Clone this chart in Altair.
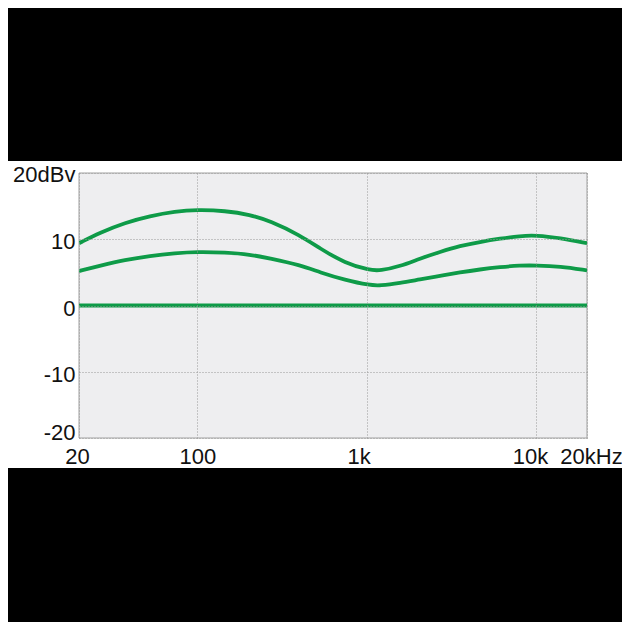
import altair as alt
import pandas as pd

# Frequencies (Hz)
freq = [20, 26.6, 37.4, 52.5, 73.8, 100, 146, 204.6, 269, 404, 530, 745, 1046,
        1199, 1573, 2065, 2711, 3557, 4668, 6127, 8042, 10000, 13860, 20000]
upper = [9.4, 11.0, 12.5, 13.5, 14.2, 14.45, 14.3, 13.7, 12.75, 10.6, 8.6, 6.4,
         5.3, 5.25, 5.9, 7.1, 8.1, 9.0, 9.6, 10.1, 10.5, 10.6, 10.2, 9.4]
lower = [5.2, 6.0, 6.9, 7.5, 7.9, 8.1, 8.0, 7.7, 7.1, 6.1, 5.0, 3.85, 3.05,
         3.0, 3.4, 3.95, 4.45, 5.0, 5.45, 5.8, 6.05, 6.05, 5.9, 5.3]
zero_freq = [20, 20000]
zero = [0, 0]

x_ticks = [20, 100, 1000, 10000, 20000]
x_labels = ["20", "100", "1k", "10k", "20kHz"]
y_ticks = [-20, -10, 0, 10, 20]
y_labels = ["-20", "-10", "0", "10", "20dBv"]

rows = []
for f, v in zip(freq, upper):
    rows.append({"f": f, "db": v, "s": "upper"})
for f, v in zip(freq, lower):
    rows.append({"f": f, "db": v, "s": "lower"})
for f, v in zip(zero_freq, zero):
    rows.append({"f": f, "db": v, "s": "zero"})
df = pd.DataFrame(rows)

xlab_expr = "".join(
    f"datum.value == {t} ? '{l}' : " for t, l in zip(x_ticks, x_labels)) + "datum.label"
ylab_expr = "".join(
    f"datum.value == {t} ? '{l}' : " for t, l in zip(y_ticks, y_labels)) + "datum.label"

FONT = "Liberation Sans"
GREEN = "#0e9b48"
W, H = 508, 265
PL, PT = 71, 165

one = pd.DataFrame({"k": [0]})

white = alt.Chart(one).mark_rect(color="white", clip=False).encode(
    x=alt.value(-PL), x2=alt.value(545), y=alt.value(-12), y2=alt.value(295))

grey = alt.Chart(one).mark_rect(fill="#eeeef0", stroke="#a0a0a0", strokeWidth=1).encode(
    x=alt.value(0), x2=alt.value(W), y=alt.value(0), y2=alt.value(H))

lines = alt.Chart(df).mark_line(color=GREEN, strokeWidth=3.8, interpolate="basis",
                                clip=True).encode(
    x=alt.X("f:Q", scale=alt.Scale(type="log", domain=[20, 20000], nice=False),
            axis=alt.Axis(values=x_ticks, labelExpr=xlab_expr, title=None, ticks=False,
                          domain=False, grid=True, gridColor="#999999", gridDash=[1, 2],
                          gridWidth=1, labelFont=FONT, labelFontSize=22, labelColor="#111111",
                          labelPadding=8, labelFlush=False, labelOverlap=False, zindex=1,
                          labelOffset={"condition": [
                              {"test": "datum.value == 20", "value": -2},
                              {"test": "datum.value == 1000", "value": -8},
                              {"test": "datum.value == 10000", "value": -6},
                              {"test": "datum.value == 20000", "value": 4}], "value": 0})),
    y=alt.Y("db:Q", scale=alt.Scale(domain=[-20, 20], nice=False),
            axis=alt.Axis(values=y_ticks, labelExpr=ylab_expr, title=None, ticks=False,
                          domain=False, grid=True, gridColor="#999999", gridDash=[1, 2],
                          gridWidth=1, labelFont=FONT, labelFontSize=22, labelColor="#111111",
                          labelPadding=4, labelFlush=False, labelOverlap=False, zindex=1,
                          labelOffset={"condition": [
                              {"test": "datum.value == 20", "value": 1},
                              {"test": "datum.value == -20", "value": -5.5}], "value": 2.5})),
    detail="s:N",
)

chart = alt.layer(white, grey, lines).properties(
    width=W, height=H,
    padding={"left": PL, "top": PT, "right": 614 - PL - W, "bottom": 614 - PT - H},
    autosize=alt.AutoSizeParams(type="none"),
    background="black",
).configure_view(strokeWidth=0)

chart.save("out.html", embed_options={"renderer": "svg", "actions": False})
